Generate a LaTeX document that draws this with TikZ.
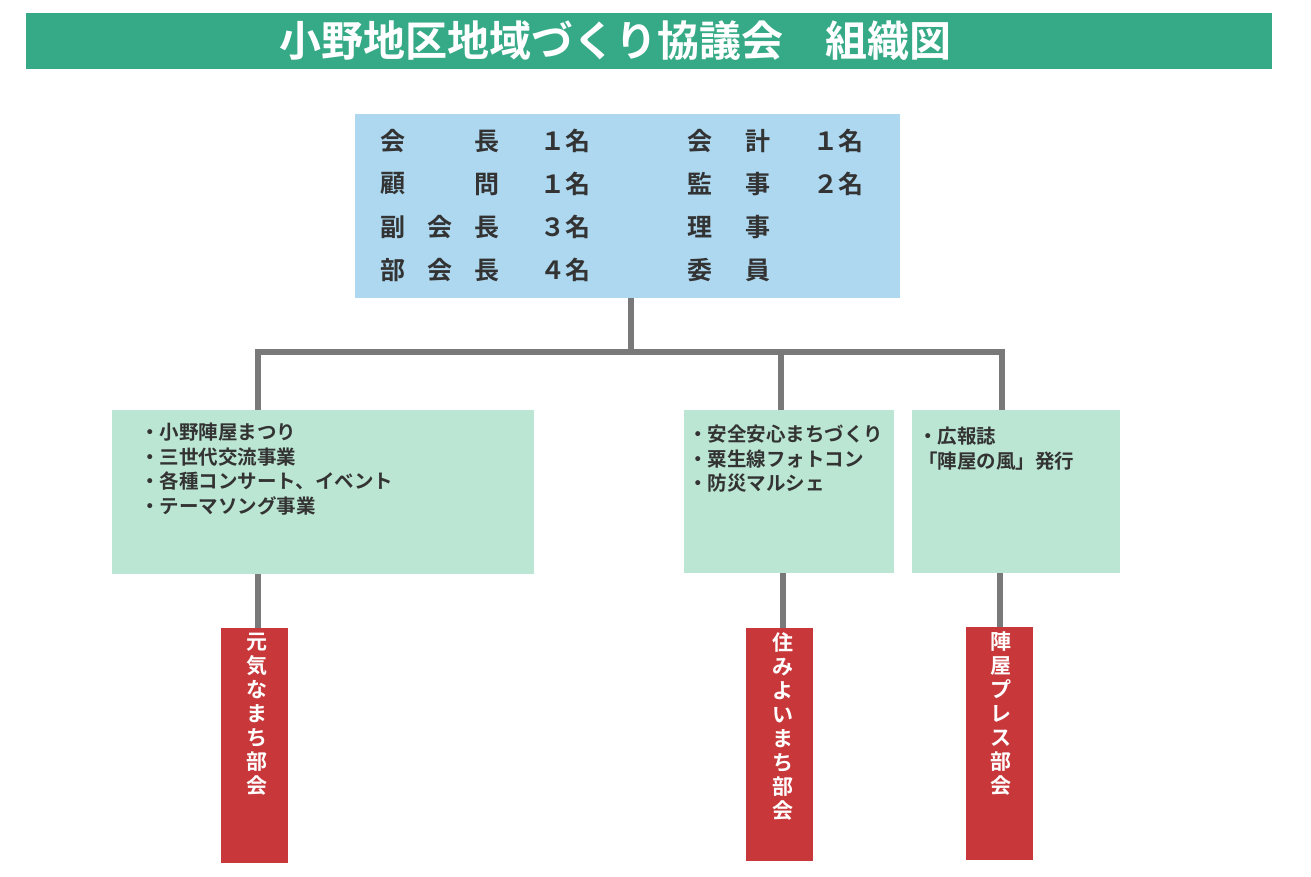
\documentclass[tikz,border=0pt]{standalone}
\usepackage{fontspec}
\setmainfont{Noto Sans CJK JP}[BoldFont={Noto Sans CJK JP Bold}]
\newfontfamily\jpb{Noto Sans CJK JP Bold}
\definecolor{tgreen}{RGB}{54,170,134}
\definecolor{lblue}{RGB}{173,216,240}
\definecolor{lgreen}{RGB}{187,230,212}
\definecolor{dred}{RGB}{200,55,58}
\definecolor{ink}{RGB}{51,51,51}
\begin{document}
\begin{tikzpicture}[x=1pt,y=-1pt,
  conn/.style={draw=gray!95!black,line width=6pt},
  gbox/.style={fill=lgreen,draw=none},
  rbox/.style={fill=dred,draw=none},
  btxt/.style={font=\jpb\fontsize{25}{25}\selectfont,text=ink,anchor=center,inner sep=0},
  gtxt/.style={font=\jpb\fontsize{19.5}{24.5}\selectfont,text=ink,anchor=north west,align=left,inner sep=0},
  vtxt/.style={font=\jpb\fontsize{21}{24}\selectfont,text=white,anchor=north,align=center,inner sep=0}]
\useasboundingbox (0,0) rectangle (1311,876);
\fill[tgreen] (26,13) rectangle (1272,69);
\node[font=\jpb\fontsize{42}{42}\selectfont,text=white] (title) at (615,41) {小野地区地域づくり協議会\hspace{1em}組織図};
% top box
\fill[lblue] (355,114) rectangle (900,298);
\coordinate (topb) at (631,298);
\foreach \y/\a/\b/\c/\n in {141/会/ /長/１名, 184/顧/ /問/１名, 227/副/会/長/３名, 270/部/会/長/４名}{
  \node[btxt] at (393,\y) {\a};
  \node[btxt] at (440,\y) {\b};
  \node[btxt] at (487,\y) {\c};
  \node[btxt] at (565,\y) {\n};
}
\foreach \y/\a/\b/\n in {141/会/計/１名, 184/監/事/２名, 227/理/事/{}, 270/委/員/{}}{
  \node[btxt] at (700,\y) {\a};
  \node[btxt] at (758,\y) {\b};
  \node[btxt] at (838,\y) {\n};
}
% green boxes
\fill[gbox] (112,410) rectangle (534,574);
\fill[gbox] (684,410) rectangle (894,573);
\fill[gbox] (912,410) rectangle (1120,573);
\node[gtxt] (g1) at (140,423) {・小野陣屋まつり\\・三世代交流事業\\・各種コンサート、イベント\\・テーマソング事業};
\node[gtxt] (g2) at (688,425) {・安全安心まちづくり\\・粟生線フォトコン\\・防災マルシェ};
\node[gtxt] (g3) at (918,427) {・広報誌\\「陣屋の風」発行};
% connectors
\coordinate (h) at (631,352);
\draw[conn] (topb) -- (h);
\draw[conn] (255,352) -- (1005,352);
\draw[conn] (258,352) -- (258,410);
\draw[conn] (781,352) -- (781,410);
\draw[conn] (1002,352) -- (1002,410);
\draw[conn] (258,574) -- (258,628);
\draw[conn] (783,573) -- (783,628);
\draw[conn] (1000,573) -- (1000,627);
% red boxes
\fill[rbox] (221,628) rectangle (288,863);
\fill[rbox] (746,628) rectangle (813,861);
\fill[rbox] (966,627) rectangle (1033,860);
\node[vtxt] (r1) at (257,633) {元\\気\\な\\ま\\ち\\部\\会};
\node[vtxt] (r2) at (783,632) {住\\み\\よ\\い\\ま\\ち\\部\\会};
\node[vtxt] (r3) at (1001,631) {陣\\屋\\プ\\レ\\ス\\部\\会};
\end{tikzpicture}
\end{document}
